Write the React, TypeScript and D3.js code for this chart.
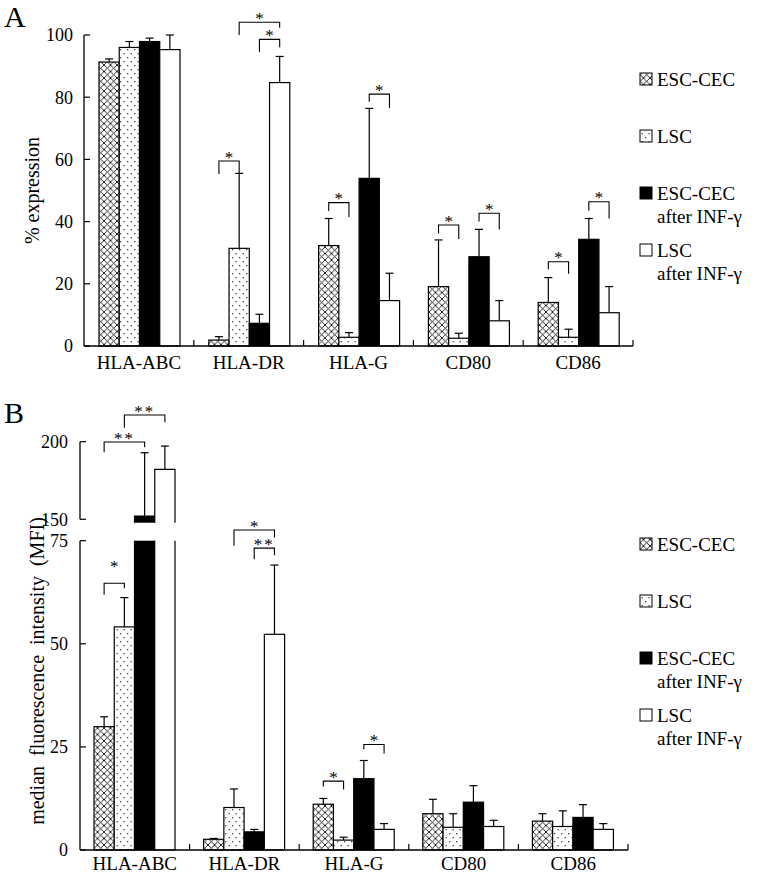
import React from "react";
import * as d3 from "d3";

const categories = ["HLA-ABC", "HLA-DR", "HLA-G", "CD80", "CD86"];
const legendLabels = [["ESC-CEC"], ["LSC"], ["ESC-CEC", "after INF-γ"], ["LSC", "after INF-γ"]];

// Panel A: % expression (mean, sd)
const escCecPctMean = [91.3, 1.9, 32.3, 19.1, 14.0];
const escCecPctSd = [1.0, 1.1, 8.7, 15.0, 8.0];
const lscPctMean = [96.0, 31.4, 2.8, 2.5, 2.8];
const lscPctSd = [1.9, 24.1, 1.5, 1.6, 2.6];
const escCecIfnPctMean = [97.9, 7.3, 53.9, 28.7, 34.3];
const escCecIfnPctSd = [1.1, 2.9, 22.5, 8.8, 6.7];
const lscIfnPctMean = [95.3, 84.7, 14.6, 8.1, 10.7];
const lscIfnPctSd = [4.7, 8.4, 8.8, 6.5, 8.4];

// Panel B: median fluorescence intensity (mean, sd)
const escCecMfiMean = [29.9, 2.6, 11.1, 8.8, 7.0];
const escCecMfiSd = [2.4, 0.2, 1.4, 3.5, 1.8];
const lscMfiMean = [54.1, 10.3, 2.4, 5.5, 5.7];
const lscMfiSd = [7.1, 4.5, 0.7, 3.3, 3.8];
const escCecIfnMfiMean = [152.1, 4.4, 17.3, 11.6, 7.9];
const escCecIfnMfiSd = [40.8, 0.6, 4.4, 4.0, 3.1];
const lscIfnMfiMean = [182.2, 52.3, 5.0, 5.7, 5.0];
const lscIfnMfiSd = [15.0, 16.8, 1.4, 1.5, 1.4];

const yTicksA = [0, 20, 40, 60, 80, 100];
const yTicksBLower = [0, 25, 50, 75];
const yTicksBUpper = [150, 200];

// significance brackets: series a -> series b, bracket level and leg ends (data units)
const sigA = [
  { cat: "HLA-DR", a: 0, b: 1, y: 59.5, la: 55.3, lb: 55.6, text: "*" },
  { cat: "HLA-DR", a: 1, b: 3, y: 104.1, la: 100, lb: 102.3, text: "*" },
  { cat: "HLA-DR", a: 2, b: 3, y: 98.6, la: 94.5, lb: 96.1, text: "*" },
  { cat: "HLA-G", a: 0, b: 1, y: 46.1, la: 43.4, lb: 41.5, text: "*" },
  { cat: "HLA-G", a: 2, b: 3, y: 81, la: 78.5, lb: 76.5, text: "*" },
  { cat: "CD80", a: 0, b: 1, y: 38.9, la: 36.2, lb: 34.4, text: "*" },
  { cat: "CD80", a: 2, b: 3, y: 42.7, la: 40, lb: 37.5, text: "*" },
  { cat: "CD86", a: 0, b: 1, y: 27.1, la: 24.7, lb: 23.2, text: "*" },
  { cat: "CD86", a: 2, b: 3, y: 46.4, la: 43.5, lb: 41, text: "*" },
];
const sigB = [
  { cat: "HLA-ABC", a: 0, b: 1, y: 64.7, la: 61.9, lb: 63.5, text: "*", seg: "lower", lift: 20 },
  { cat: "HLA-ABC", a: 0, b: 2, y: 199.8, la: 193.2, lb: 196.4, text: "**", seg: "upper" },
  { cat: "HLA-ABC", a: 1, b: 3, y: 217.2, la: 209, lb: 212.5, text: "**", seg: "upper" },
  { cat: "HLA-DR", a: 1, b: 3, y: 77.6, la: 73.8, lb: 75.8, text: "*", seg: "lower" },
  { cat: "HLA-DR", a: 2, b: 3, y: 73.2, la: 70.5, lb: 71.5, text: "**", seg: "lower" },
  { cat: "HLA-G", a: 0, b: 1, y: 16.7, la: 15.4, lb: 14.7, text: "*", seg: "lower" },
  { cat: "HLA-G", a: 2, b: 3, y: 25.6, la: 24.4, lb: 23.4, text: "*", seg: "lower" },
];

const FONT = "'Liberation Serif', 'Times New Roman', serif";
const fills = ["url(#hatch)", "url(#dots)", "#000", "#fff"];
const SW = 1.2;

function Legend({ top }: { top: number }) {
  return (
    <g>
      {legendLabels.map((lines, i) => {
        const cy = top + i * 57;
        return (
          <g key={i}>
            <rect x={640} y={cy - 6} width={12} height={12} fill={fills[i]} stroke="#000" strokeWidth={1} />
            {lines.map((t, j) => (
              <text key={j} x={657} y={cy + j * 23} dy="0.35em" fontSize={19} fontFamily={FONT}>
                {t}
              </text>
            ))}
          </g>
        );
      })}
    </g>
  );
}

function Bracket({ x1, x2, y, ya, yb, text, lift = 7 }: any) {
  const cy = y - lift;
  return (
    <g>
      <path d={`M${x1},${ya}V${y}H${x2}V${yb}`} fill="none" stroke="#000" strokeWidth={1.1} />
      <text x={(x1 + x2) / 2} y={cy + 8.6} textAnchor="middle" fontSize={17} fontFamily={FONT} fill="#000" letterSpacing={text.length > 1 ? 2 : 0}>
        {text}
      </text>
    </g>
  );
}

function ErrorBar({ cx, y0, y1 }: any) {
  return (
    <g stroke="#000" strokeWidth={SW}>
      <line x1={cx} x2={cx} y1={y0} y2={y1} />
      <line x1={cx - 4} x2={cx + 4} y1={y1} y2={y1} />
    </g>
  );
}

function PanelA() {
  const x0 = 84, x1 = 633, base = 346;
  const xG = d3.scaleBand<string>().domain(categories).range([x0, x1]);
  const xS = d3.scaleBand<number>().domain([0, 1, 2, 3]).range([15, 96]);
  const y = d3.scaleLinear().domain([0, 100]).range([base, 35]);
  const means = [escCecPctMean, lscPctMean, escCecIfnPctMean, lscIfnPctMean];
  const sds = [escCecPctSd, lscPctSd, escCecIfnPctSd, lscIfnPctSd];
  const bw = xS.bandwidth();
  const cx = (c: string, s: number) => (xG(c) as number) + (xS(s) as number) + bw / 2;
  return (
    <g>
      <text x={4} y={27} fontSize={30} fontFamily={FONT}>A</text>
      {means.map((arr, s) =>
        categories.map((c, i) => (
          <g key={`${s}-${c}`}>
            <ErrorBar cx={cx(c, s)} y0={y(arr[i])} y1={y(arr[i] + sds[s][i])} />
            <rect x={(xG(c) as number) + (xS(s) as number)} y={y(arr[i])} width={bw} height={base - y(arr[i])} fill={fills[s]} stroke="#000" strokeWidth={SW} />
          </g>
        ))
      )}
      <line x1={x0} x2={x0} y1={y(100)} y2={base} stroke="#000" strokeWidth={1.3} />
      <line x1={x0} x2={x1} y1={base} y2={base} stroke="#000" strokeWidth={1.3} />
      {yTicksA.map((t) => (
        <g key={t}>
          <line x1={x0} x2={x0 + 6} y1={y(t)} y2={y(t)} stroke="#000" strokeWidth={1.2} />
          <text x={73} y={y(t)} dy="0.35em" textAnchor="end" fontSize={18} fontFamily={FONT}>{t}</text>
        </g>
      ))}
      {categories.map((c) => (
        <g key={c}>
          <line x1={(xG(c) as number) + xG.bandwidth()} x2={(xG(c) as number) + xG.bandwidth()} y1={base} y2={base - 6} stroke="#000" strokeWidth={1.2} />
          <text x={(xG(c) as number) + xG.bandwidth() / 2} y={369} textAnchor="middle" fontSize={19} fontFamily={FONT}>{c}</text>
        </g>
      ))}
      <text transform={`translate(39,${(y(100) + base) / 2}) rotate(-90)`} textAnchor="middle" fontSize={20} fontFamily={FONT}>% expression</text>
      {sigA.map((b, k) => (
        <Bracket key={k} x1={cx(b.cat, b.a)} x2={cx(b.cat, b.b)} y={y(b.y)} ya={y(b.la)} yb={y(b.lb)} text={b.text} />
      ))}
      <Legend top={79} />
    </g>
  );
}

function PanelB() {
  const x0 = 80, x1 = 628, base = 850;
  const xG = d3.scaleBand<string>().domain(categories).range([x0, x1]);
  const xS = d3.scaleBand<number>().domain([0, 1, 2, 3]).range([14, 95]);
  const yL = d3.scaleLinear().domain([0, 75]).range([base, 540.7]);
  const yU = d3.scaleLinear().domain([150, 200]).range([519.3, 441.7]);
  const upperBottom = yU(147.8);
  const lowerTop = yL(75);
  const means = [escCecMfiMean, lscMfiMean, escCecIfnMfiMean, lscIfnMfiMean];
  const sds = [escCecMfiSd, lscMfiSd, escCecIfnMfiSd, lscIfnMfiSd];
  const bw = xS.bandwidth();
  const bx = (c: string, s: number) => (xG(c) as number) + (xS(s) as number);
  const cx = (c: string, s: number) => bx(c, s) + bw / 2;
  const yAny = (v: number, seg: string) => (seg === "upper" ? yU(v) : yL(v));
  return (
    <g>
      <text x={4} y={423} fontSize={30} fontFamily={FONT}>B</text>
      {means.map((arr, s) =>
        categories.map((c, i) => {
          const v = arr[i];
          const x = bx(c, s);
          if (v <= 75) {
            return (
              <g key={`${s}-${c}`}>
                <ErrorBar cx={cx(c, s)} y0={yL(v)} y1={yL(v + sds[s][i])} />
                <rect x={x} y={yL(v)} width={bw} height={base - yL(v)} fill={fills[s]} stroke="#000" strokeWidth={SW} />
              </g>
            );
          }
          const top = yU(v);
          return (
            <g key={`${s}-${c}`}>
              <ErrorBar cx={cx(c, s)} y0={top} y1={yU(v + sds[s][i])} />
              <rect x={x} y={lowerTop} width={bw} height={base - lowerTop} fill={fills[s]} stroke="none" />
              <path d={`M${x},${lowerTop}V${base}H${x + bw}V${lowerTop}`} fill="none" stroke="#000" strokeWidth={SW} />
              <rect x={x} y={top} width={bw} height={upperBottom - top} fill={fills[s]} stroke="none" />
              <path d={`M${x},${upperBottom}V${top}H${x + bw}V${upperBottom}`} fill="none" stroke="#000" strokeWidth={SW} />
            </g>
          );
        })
      )}
      <line x1={x0} x2={x0} y1={lowerTop} y2={base} stroke="#000" strokeWidth={1.3} />
      <line x1={x0} x2={x0} y1={yU(200)} y2={yU(150)} stroke="#000" strokeWidth={1.3} />
      <line x1={x0} x2={x1} y1={base} y2={base} stroke="#000" strokeWidth={1.3} />
      {yTicksBLower.map((t) => (
        <g key={t}>
          <line x1={x0} x2={x0 + 6} y1={yL(t)} y2={yL(t)} stroke="#000" strokeWidth={1.2} />
          <text x={68} y={yL(t)} dy="0.35em" textAnchor="end" fontSize={18} fontFamily={FONT}>{t}</text>
        </g>
      ))}
      {yTicksBUpper.map((t) => (
        <g key={t}>
          <line x1={x0} x2={x0 + 6} y1={yU(t)} y2={yU(t)} stroke="#000" strokeWidth={1.2} />
          <text x={68} y={yU(t)} dy="0.35em" textAnchor="end" fontSize={18} fontFamily={FONT}>{t}</text>
        </g>
      ))}
      {categories.map((c) => (
        <g key={c}>
          <line x1={(xG(c) as number) + xG.bandwidth()} x2={(xG(c) as number) + xG.bandwidth()} y1={base} y2={base - 6} stroke="#000" strokeWidth={1.2} />
          <text x={(xG(c) as number) + xG.bandwidth() / 2} y={870} textAnchor="middle" fontSize={19} fontFamily={FONT}>{c}</text>
        </g>
      ))}
      <text transform={`translate(44,671) rotate(-90)`} textAnchor="middle" fontSize={20} fontFamily={FONT} wordSpacing={5}>median fluorescence intensity (MFI)</text>
      {sigB.map((b, k) => (
        <Bracket key={k} x1={cx(b.cat, b.a)} x2={cx(b.cat, b.b)} y={yAny(b.y, b.seg)} ya={yAny(b.la, b.seg)} yb={yAny(b.lb, b.seg)} text={b.text} lift={b.lift ?? 7} />
      ))}
      <Legend top={544} />
    </g>
  );
}

export default function App() {
  return (
    <svg width={760} height={886} style={{ position: "absolute", left: 0, top: 0, background: "#fff" }}>
      <defs>
        <pattern id="hatch" width={6.5} height={6.5} patternUnits="userSpaceOnUse">
          <rect width={6.5} height={6.5} fill="#fff" />
          <path d="M0,0L6.5,6.5M6.5,0L0,6.5" stroke="#111" strokeWidth={0.9} />
        </pattern>
        <pattern id="dots" width={7} height={8} patternUnits="userSpaceOnUse">
          <rect width={7} height={8} fill="#fff" />
          <rect x={1} y={1} width={1.3} height={1.3} fill="#444" />
          <rect x={4.5} y={5} width={1.3} height={1.3} fill="#444" />
        </pattern>
      </defs>
      <rect width={760} height={886} fill="#fff" />
      <PanelA />
      <PanelB />
    </svg>
  );
}
